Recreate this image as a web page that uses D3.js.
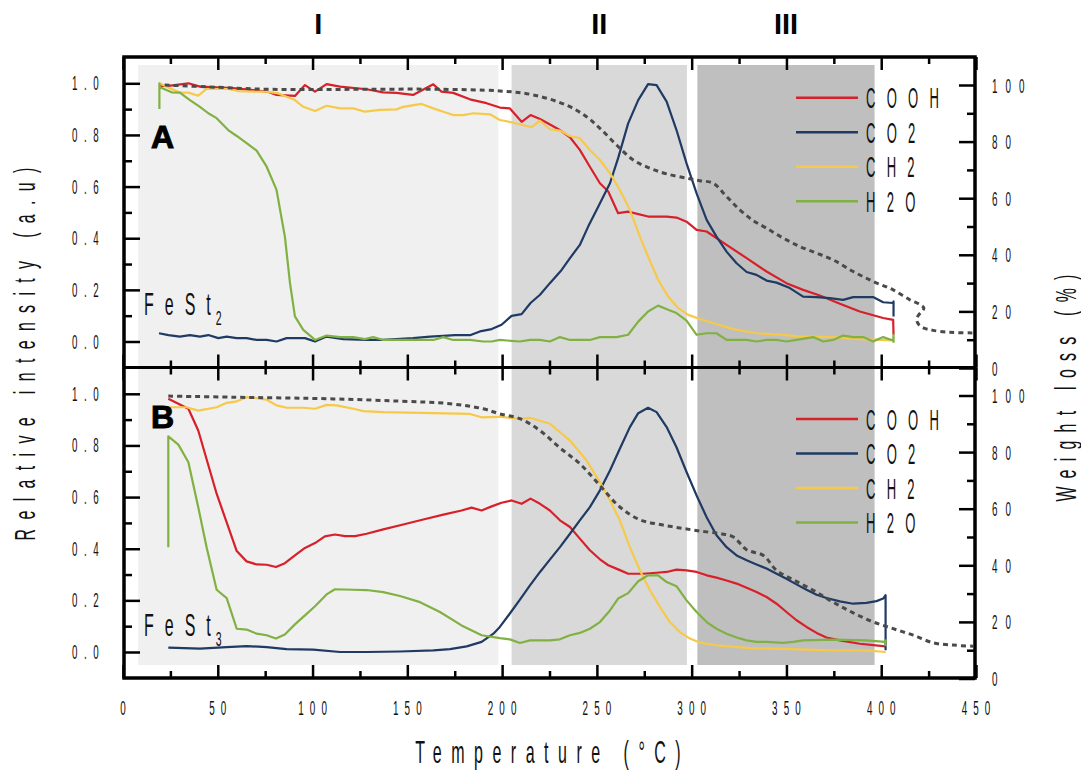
<!DOCTYPE html>
<html>
<head>
<meta charset="utf-8">
<script src="https://cdn.jsdelivr.net/npm/d3@7"></script>
<style>
  body { margin: 0; background: #fff; }
  svg { display: block; }
</style>
</head>
<body>
<div id="chart"></div>
<script>
// Ticks y nombres
xTicks = [0, 50, 100, 150, 200, 250, 300, 350, 400, 450]
xMinor = [25, 75, 125, 175, 225, 275, 325, 375, 425]
leftTicks = [0, 0.2, 0.4, 0.6, 0.8, 1.0]
leftMinor = [0.1, 0.3, 0.5, 0.7, 0.9]
rightTicks = [0, 20, 40, 60, 80, 100]
rightMinor = [10, 30, 50, 70, 90]
seriesNames = ['COOH', 'CO2', 'CH2', 'H2O']
regionNames = ['I', 'II', 'III']
regionFrom = [8, 205, 303]
regionTo = [198, 297.5, 396.5]
panelNames = ['A', 'B']
sampleNames = ['FeSt', 'FeSt']
sampleSubs = ['2', '3']

// Panel A (FeSt2): [temperatura, intensidad]
aCOOH = [[19,0.99],[24,0.99],[34.5,1.0],[40.6,0.987],[58,0.981],[76,0.968],[81,0.955],[90.7,0.951],[96,0.993],[101.3,0.968],[107.4,0.997],[114.5,0.987],[128.5,0.977],[137.3,0.965],[144.3,0.963],[153,0.955],[163.7,0.996],[168,0.968],[174.2,0.963],[183,0.938],[191.8,0.923],[198.8,0.906],[204,0.903],[210.3,0.851],[215,0.877],[220,0.862],[230.5,0.819],[235.8,0.791],[241,0.742],[246.3,0.677],[251.6,0.613],[256,0.581],[261.2,0.497],[266.5,0.503],[277,0.484],[286.8,0.484],[292,0.48],[297.3,0.464],[302.6,0.432],[307.9,0.426],[318.4,0.374],[329,0.323],[339.5,0.271],[350,0.226],[358.8,0.2],[367.6,0.178],[378.2,0.146],[388.7,0.116],[401,0.091],[406.3,0.084],[406.5,0.026]]
aCO2 = [[19,0.032],[24,0.025],[30,0.019],[35.3,0.025],[40.6,0.019],[45,0.025],[50.3,0.013],[54.7,0.019],[60,0.013],[65.2,0.013],[70.5,0.006],[75.8,0.006],[81,0.0],[86.3,0.013],[96,0.013],[101.3,0.0],[107.4,0.019],[116.2,0.009],[128.5,0.006],[137.3,0.006],[153,0.013],[162,0.019],[169,0.022],[175,0.025],[183.4,0.025],[188.3,0.039],[194.5,0.048],[199.7,0.065],[205,0.099],[210.3,0.106],[215,0.149],[220,0.181],[225.2,0.226],[231.4,0.277],[235.8,0.323],[241,0.374],[245.4,0.445],[250.7,0.522],[256.9,0.613],[261.2,0.71],[266.5,0.845],[271.8,0.935],[277,0.997],[281.5,0.993],[286.8,0.929],[292,0.819],[297.3,0.69],[302.6,0.574],[307.9,0.471],[313.1,0.406],[318.4,0.348],[323.7,0.303],[329,0.269],[334.2,0.258],[339.5,0.236],[344.8,0.228],[351.8,0.207],[358.8,0.174],[365.9,0.172],[372.9,0.168],[379.9,0.161],[385.2,0.172],[395.7,0.172],[401,0.152],[406.3,0.149],[406.5,0.155],[406.5,0.097]]
aCH2 = [[19.2,1.0],[24.8,0.981],[30,0.964],[34.5,0.964],[39.7,0.952],[44.1,0.978],[55.5,0.978],[60.8,0.97],[70.5,0.968],[75.8,0.968],[81.9,0.961],[86.3,0.948],[90.7,0.935],[95.1,0.909],[101.3,0.893],[107.4,0.913],[114.5,0.903],[121.5,0.903],[127.6,0.89],[135.5,0.897],[144.3,0.899],[147.8,0.909],[157.5,0.92],[163.7,0.903],[169,0.89],[174.2,0.877],[179.5,0.877],[184.8,0.884],[193.6,0.88],[198.8,0.858],[205,0.849],[215.6,0.83],[220,0.855],[225.2,0.822],[230.5,0.817],[235.8,0.796],[241,0.787],[246.3,0.742],[251.6,0.703],[256.9,0.652],[262.1,0.587],[267.4,0.51],[272.7,0.406],[277,0.329],[282.3,0.239],[287.6,0.174],[292.9,0.129],[298.2,0.103],[304.3,0.087],[313.1,0.068],[321.9,0.048],[334.2,0.032],[348.3,0.026],[357.1,0.019],[374.6,0.017],[388.7,0.009],[406.3,0.004]]
aH2O = [[19.2,0.9],[19.2,1.0],[19.5,0.985],[25.7,0.965],[30,0.964],[35.3,0.935],[40.6,0.909],[45,0.884],[49.4,0.865],[55.5,0.819],[60,0.796],[65.2,0.768],[70.5,0.739],[75.8,0.677],[81,0.587],[85.4,0.406],[88.1,0.226],[90.7,0.097],[95.1,0.045],[101.3,0.006],[107.4,0.023],[114.5,0.017],[121.5,0.017],[127.6,0.009],[132,0.017],[137.3,0.006],[163.7,0.006],[169,0.017],[174.2,0.006],[183,0.006],[190,0.0],[194.5,0.0],[198.8,0.006],[209.4,0.0],[214.7,0.006],[220,0.006],[225.2,0.0],[230.5,0.017],[235.8,0.006],[246.3,0.006],[251.6,0.017],[260.4,0.017],[266.5,0.026],[271.8,0.077],[277,0.116],[282.3,0.139],[287.6,0.123],[292,0.11],[297.3,0.081],[302.6,0.026],[307.9,0.032],[313.1,0.032],[318.4,0.006],[329,0.006],[334.2,0.0],[339.5,0.006],[344.8,0.006],[350,0.0],[355.3,0.006],[364.1,0.017],[369.4,0.0],[374.6,0.006],[379.9,0.023],[385.2,0.017],[390.5,0.017],[395.7,0.0],[401,0.017],[406.3,0.004],[406.5,0.026],[406.5,-0.005]]
// perdida de peso (%), eje derecho
aTG = [[22,100],[49.4,99.2],[75.8,98.5],[102,98.4],[130,98.5],[163.7,98.5],[198.8,97.9],[216.4,96.5],[233.9,92.9],[244.5,88.8],[251.6,84.7],[260.4,78.8],[269.2,73.5],[278,70.6],[286.8,68.6],[297.3,67.1],[304.3,66.2],[311.3,65.3],[318.4,60.6],[325.4,55.9],[332.4,52.1],[339.5,49.4],[348.3,45.9],[357.1,42.9],[365.9,40.6],[374.6,38.2],[385.2,34.1],[395.7,30.6],[406.3,27.6],[415.1,24.1],[420,22.6],[422.5,21.2],[421.5,20],[419.5,18.5],[418.8,16.8],[420,15.2],[423,14],[427.3,13.3],[436.2,12.6],[448.5,12.4]]

// Panel B (FeSt3)
bCOOH = [[23.9,0.981],[34.5,0.942],[39.7,0.858],[49.4,0.613],[60,0.391],[65.2,0.351],[70.5,0.339],[75.8,0.338],[80.7,0.329],[85.4,0.344],[90.7,0.374],[96,0.403],[101.3,0.422],[106.5,0.448],[111.8,0.455],[117.1,0.449],[122.4,0.449],[128.5,0.458],[137.3,0.475],[147.8,0.494],[158.4,0.513],[169,0.532],[178.6,0.548],[183.9,0.559],[189.2,0.548],[194.5,0.564],[199.7,0.578],[205,0.587],[210.3,0.574],[215,0.594],[220,0.574],[225.2,0.548],[230.5,0.51],[235.8,0.484],[241,0.439],[246.3,0.394],[251.6,0.359],[256,0.336],[261.2,0.32],[266.5,0.303],[274.4,0.303],[281.5,0.307],[286.8,0.31],[292,0.319],[297.3,0.316],[302.6,0.31],[307.9,0.297],[313.1,0.288],[318.4,0.277],[323.7,0.265],[329,0.249],[334.2,0.232],[339.5,0.213],[344.8,0.187],[350,0.155],[355.3,0.123],[360.6,0.097],[365.9,0.074],[371.1,0.056],[378.2,0.045],[388.7,0.032],[401,0.023],[402.3,0.022]]
bCO2 = [[23.9,0.017],[40.6,0.013],[54.7,0.019],[65.2,0.023],[75.8,0.019],[86.3,0.011],[100.4,0.009],[114.5,0.0],[128.5,0.0],[146.1,0.002],[163.7,0.006],[172.5,0.011],[181.3,0.022],[189.2,0.039],[195.4,0.071],[198.8,0.097],[204.1,0.149],[209.4,0.203],[214.7,0.258],[220,0.31],[225.2,0.358],[230.5,0.406],[235.8,0.458],[241,0.51],[246.3,0.561],[251.6,0.626],[256.9,0.703],[262.1,0.787],[267.4,0.871],[271.8,0.925],[277,0.946],[281.5,0.929],[286.8,0.871],[292,0.793],[297.3,0.697],[302.6,0.606],[307.9,0.522],[313.1,0.452],[318.4,0.406],[323.7,0.374],[329,0.355],[334.2,0.339],[339.5,0.323],[344.8,0.303],[350,0.284],[355.3,0.262],[360.6,0.241],[365.9,0.222],[371.1,0.209],[378.2,0.196],[385.2,0.187],[392.2,0.19],[397.5,0.197],[401,0.207],[402.3,0.22],[402.3,0.007]]
bCH2 = [[23.9,0.948],[33.6,0.948],[39.7,0.935],[49.4,0.948],[54.7,0.965],[60,0.971],[65.2,0.987],[70.5,0.983],[75.8,0.977],[81,0.955],[86.3,0.946],[95.1,0.946],[101.3,0.942],[107.4,0.957],[112.7,0.955],[121.5,0.942],[126.8,0.933],[137.3,0.929],[163.7,0.925],[183,0.922],[189.2,0.909],[198.8,0.911],[209.4,0.903],[214.7,0.907],[225.2,0.884],[235.8,0.819],[244.5,0.742],[251.6,0.658],[256.9,0.587],[262.1,0.51],[267.4,0.406],[272.7,0.316],[278,0.239],[283.3,0.174],[288.5,0.116],[293.8,0.077],[299.1,0.052],[304.4,0.036],[313.1,0.026],[330.7,0.015],[357.1,0.01],[374.6,0.006],[392.2,0.006],[402.3,0.0]]
bH2O = [[23.9,0.406],[23.9,0.835],[29.2,0.803],[34.5,0.735],[39.7,0.561],[44.1,0.406],[49.4,0.241],[54.7,0.209],[60,0.09],[65.2,0.087],[70.5,0.071],[75.8,0.065],[80.7,0.052],[85.4,0.068],[90.7,0.107],[96,0.142],[101.3,0.177],[107.4,0.223],[111.8,0.243],[121.5,0.241],[128.5,0.24],[137.3,0.232],[146.1,0.217],[156.7,0.193],[167.2,0.155],[178.6,0.103],[189.2,0.065],[198.8,0.054],[204.1,0.049],[209.4,0.035],[214.7,0.045],[225.2,0.045],[230.5,0.049],[235.8,0.065],[241,0.074],[246.3,0.09],[251.6,0.116],[256.9,0.161],[261.2,0.207],[266.5,0.228],[271.8,0.274],[277,0.297],[282.3,0.297],[286.8,0.271],[292,0.255],[297.3,0.2],[302.6,0.155],[307.9,0.116],[313.1,0.09],[318.4,0.071],[323.7,0.056],[329,0.045],[334.2,0.039],[339.5,0.039],[348.3,0.035],[353.5,0.039],[358.8,0.045],[374.6,0.048],[392.2,0.045],[401.9,0.039],[402.3,0.045],[402.3,0.022]]
bTG = [[23.9,99.8],[58.2,99.4],[111,98.8],[146,98.0],[172.5,97.1],[190,95.3],[198.8,93.5],[209.4,91.8],[220,87.6],[230.5,81.5],[241,75.9],[251.6,68.2],[262.1,60.6],[272.7,56.1],[283.3,54.4],[293.8,53.2],[304.4,52.1],[315,51.2],[322,50.0],[329,45.5],[337.8,43.5],[344.8,38.2],[353.6,34.9],[364.1,31.2],[374.6,27.0],[385.2,23.2],[395.7,20.0],[406.3,17.6],[416.9,15.3],[427.5,12.6],[438,11.8],[448.5,11.4]]

// Estilos
seriesColors = ['#d7202a', '#1f3a63', '#f7c948', '#80b142']
regionColors = ['#f0f0f0', '#d9d9d9', '#bfbfbf']
fuente = 'Liberation Sans, Arial, sans-serif'

svg = d3.select('#chart')
  .append('svg')
  .attr('width', 1081)
  .attr('height', 774)
  .attr('font-family', fuente)

x = d3.scaleLinear().domain([0, 450]).range([123, 976])

panels = [
  { top: 57, bottom: 367.5, shadeTop: 65, shadeBottom: 367.5, legendY: 40.7, letterY: 91, sampleY: 258,
    series: [aCOOH, aCO2, aCH2, aH2O], tg: aTG },
  { top: 367.5, bottom: 678, shadeTop: 367.5, shadeBottom: 665, legendY: 51.5, letterY: 60, sampleY: 268.5,
    series: [bCOOH, bCO2, bCH2, bH2O], tg: bTG }
]

// texto estrecho con espaciado, como el original
function etiqueta(sel, txt, px, py, o) {
  return sel.append('text')
    .attr('transform', `translate(${px},${py}) rotate(${o.rot || 0}) scale(${o.sx || 1},1)`)
    .attr('x', o.anchor == 'middle' ? (o.ls || 0) / 2 : 0)
    .attr('text-anchor', o.anchor || 'start')
    .attr('font-size', o.size)
    .attr('font-weight', o.bold ? 'bold' : 'normal')
    .attr('letter-spacing', o.ls || 0)
    .attr('fill', '#111')
    .text(txt)
}

// Zonas sombreadas
gShade = svg.append('g')
panels.forEach(p => {
  gShade.selectAll(null)
    .data(regionNames)
    .enter()
    .append('rect')
      .attr('x', (d, i) => x(regionFrom[i]))
      .attr('width', (d, i) => x(regionTo[i]) - x(regionFrom[i]))
      .attr('y', p.shadeTop)
      .attr('height', p.shadeBottom - p.shadeTop)
      .attr('fill', (d, i) => regionColors[i])
})

regionNames.forEach((r, i) => {
  etiqueta(svg, r, x((regionFrom[i] + regionTo[i]) / 2), 34, { size: 29, bold: true, anchor: 'middle' })
    .attr('fill', '#000')
})

panels.forEach((p, k) => {
  yL = d3.scaleLinear().domain([0, 1]).range([p.top + 284.5, p.top + 26.3])
  yR = d3.scaleLinear().domain([0, 100]).range([p.bottom + 0.5, p.top + 28])

  g = svg.append('g')

  linea = d3.line().x(d => x(d[0])).y(d => yL(d[1]))

  p.series.forEach((s, i) => {
    g.append('path')
      .attr('d', linea(s))
      .attr('fill', 'none')
      .attr('stroke', seriesColors[i])
      .attr('stroke-width', 2.2)
      .attr('stroke-linejoin', 'round')
  })

  g.append('path')
    .attr('d', d3.line().x(d => x(d[0])).y(d => yR(d[1])).curve(d3.curveCatmullRom)(p.tg))
    .attr('fill', 'none')
    .attr('stroke', '#4a4a4a')
    .attr('stroke-width', 3)
    .attr('stroke-dasharray', '5,4')

  // leyenda
  seriesNames.forEach((n, i) => {
    ly = p.top + p.legendY + i * 34.5
    g.append('line')
      .attr('x1', 796).attr('x2', 858)
      .attr('y1', ly).attr('y2', ly)
      .attr('stroke', seriesColors[i])
      .attr('stroke-width', 2.5)
    etiqueta(g, n, 866, ly + 10.5, { size: 29, sx: 0.45, ls: 25 })
  })

  // A / B y muestra
  etiqueta(g, panelNames[k], 151, p.top + p.letterY, { size: 32, bold: true })
    .attr('fill', '#000')
    .attr('stroke', '#000')
    .attr('stroke-width', 1)
  t = etiqueta(g, sampleNames[k], 144, p.top + p.sampleY, { size: 32, sx: 0.5, ls: 22 })
  t.append('tspan')
    .attr('dx', -12)
    .attr('dy', 10)
    .attr('font-size', 21)
    .text(sampleSubs[k])

  // ejes (marcas hacia adentro)
  marcas = (eje, vals, size) => eje.tickValues(vals).tickSize(size).tickFormat('')
  ejes = [
    [`translate(0,${p.top})`, marcas(d3.axisTop(x), xTicks, -13)],
    [`translate(0,${p.top})`, marcas(d3.axisTop(x), xMinor, -7)],
    [`translate(0,${p.bottom})`, marcas(d3.axisBottom(x), xTicks, -13)],
    [`translate(0,${p.bottom})`, marcas(d3.axisBottom(x), xMinor, -7)],
    ['translate(124,0)', marcas(d3.axisLeft(yL), leftTicks, -16)],
    ['translate(124,0)', marcas(d3.axisLeft(yL), leftMinor, -8)],
    ['translate(975,0)', marcas(d3.axisRight(yR), rightTicks, -16)],
    ['translate(975,0)', marcas(d3.axisRight(yR), rightMinor, -8)]
  ]
  ejes.forEach(e => {
    svg.append('g')
      .attr('transform', e[0])
      .call(e[1])
      .call(a => a.select('.domain').remove())
      .call(a => a.selectAll('line').attr('stroke', '#000').attr('stroke-width', 2.5))
  })

  leftTicks.forEach(v => {
    etiqueta(svg, d3.format('.1f')(v), 72, yL(v) + 7, { size: 19.5, sx: 0.5, ls: 13 })
  })
  rightTicks.forEach(v => {
    etiqueta(svg, String(v), 992, yR(v) + 7.5, { size: 21, sx: 0.47, ls: 17 })
  })
})

// Marco
svg.append('rect')
  .attr('x', 124).attr('y', 57)
  .attr('width', 851).attr('height', 621)
  .attr('fill', 'none')
  .attr('stroke', '#000')
  .attr('stroke-width', 3.5)
svg.append('line')
  .attr('x1', 124).attr('x2', 975)
  .attr('y1', 367.5).attr('y2', 367.5)
  .attr('stroke', '#000')
  .attr('stroke-width', 3)

xTicks.forEach(v => {
  etiqueta(svg, String(v), x(v), 715, { size: 21, sx: 0.47, ls: 13 , anchor: 'middle' })
})

// Titulos de ejes
etiqueta(svg, 'Temperature (°C)', 548, 763, { size: 32, sx: 0.5, ls: 19, anchor: 'middle' })
etiqueta(svg, 'Relative intensity (a.u)', 35, 354, { size: 29, sx: 0.55, ls: 17, anchor: 'middle', rot: -90 })
etiqueta(svg, 'Weight loss (%)', 1076, 388, { size: 29, sx: 0.55, ls: 15, anchor: 'middle', rot: -90 })
</script>
</body>
</html>
